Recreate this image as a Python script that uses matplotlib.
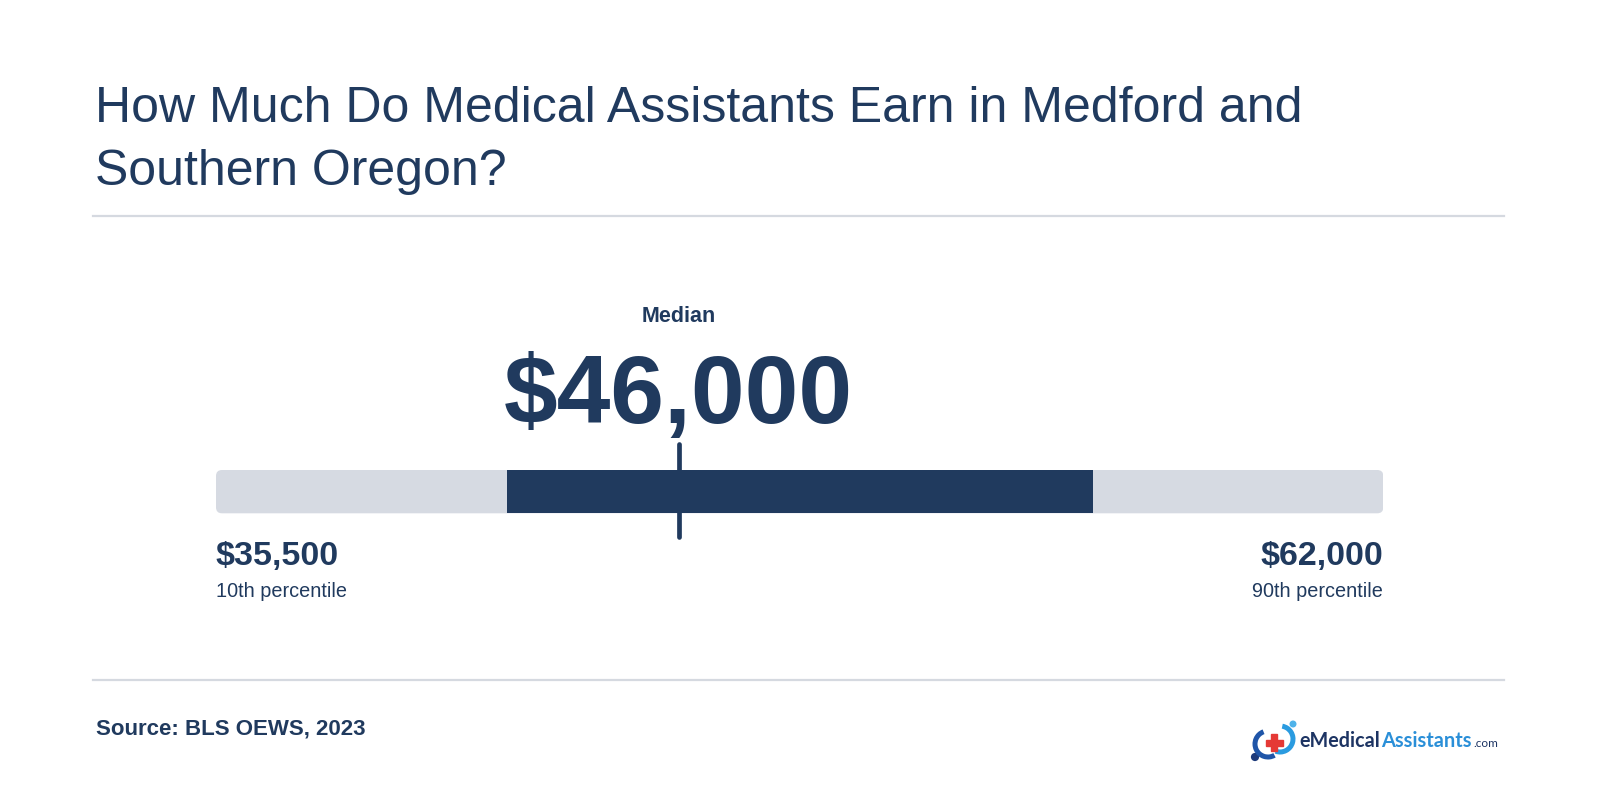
"""Salary range chart for medical assistants in Medford / Southern Oregon"""

import matplotlib.pyplot as plt
import matplotlib.transforms as mtransforms
from matplotlib.patches import FancyBboxPatch, Arc, Circle, Rectangle

# data
title = "How Much Do Medical Assistants Earn in Medford and\nSouthern Oregon?"
percentiles = ["10th percentile", "25th percentile", "Median", "75th percentile", "90th percentile"]
wages = [35500, 42100, 46000, 55400, 62000]
source = "Source: BLS OEWS, 2023"

NAVY = "#203a5e"
LIGHT = "#d6dae2"
RULE = "#d5d9e0"
W, H = 1600, 800

plt.rcParams['font.family'] = ['Liberation Sans', 'DejaVu Sans']

fig = plt.figure(figsize=(16, 8), dpi=100)
fig.patch.set_facecolor("white")


def fx(px):
    return px / W


def fy(py):
    return 1 - py / H


# title + rules
fig.text(fx(95), fy(122), title.split("\n")[0], fontsize=36, color=NAVY, va="baseline")
fig.text(fx(95), fy(185), title.split("\n")[1], fontsize=36, color=NAVY, va="baseline")
for yy in (215.7, 680):
    fig.add_artist(plt.Line2D([fx(93), fx(1504)], [fy(yy), fy(yy)], color=RULE, lw=1.6))

# range bar axes: x in dollars, y in pixels from top
p10, p25, med, p75, p90 = wages
x0, x1 = 216, 1383.3
ytop, ybot = 430, 560
ax = fig.add_axes([fx(x0), fy(ybot), (x1 - x0) / W, (ybot - ytop) / H])
ax.set_xlim(p10, p90)
ax.set_ylim(ybot, ytop)
ax.axis("off")

dollars_per_px = (p90 - p10) / (x1 - x0)
bar_y, bar_h = 470, 43.3
bg = FancyBboxPatch((p10, bar_y), p90 - p10, bar_h,
                    boxstyle="round,pad=0,rounding_size=%f" % (6 * dollars_per_px),
                    mutation_aspect=1 / dollars_per_px,
                    facecolor=LIGHT, edgecolor="none")
ax.add_patch(bg)
ax.barh(bar_y + bar_h / 2, p75 - p25, left=p25, height=bar_h, color=NAVY)
ax.vlines(med, 444, 537, color=NAVY, lw=3.4, capstyle="round")

# labels
tr = mtransforms.blended_transform_factory(ax.transData, fig.transFigure)
ax.text(med, fy(322), percentiles[2], transform=tr, ha="center", va="baseline",
        fontsize=15.5, fontweight="bold", color=NAVY)
ax.text(med, fy(423), "${:,}".format(med), transform=tr, ha="center", va="baseline",
        fontsize=69.5, fontweight="bold", color=NAVY)
ax.text(p10, fy(565), "${:,}".format(p10), transform=tr, ha="left", va="baseline",
        fontsize=24.5, fontweight="bold", color=NAVY)
ax.text(p10, fy(597), percentiles[0], transform=tr, ha="left", va="baseline",
        fontsize=14.3, color=NAVY)
ax.text(p90, fy(565), "${:,}".format(p90), transform=tr, ha="right", va="baseline",
        fontsize=24.5, fontweight="bold", color=NAVY)
ax.text(p90, fy(597), percentiles[4], transform=tr, ha="right", va="baseline",
        fontsize=14.3, color=NAVY)

# source
fig.text(fx(96), fy(735), source, fontsize=16, fontweight="bold", color=NAVY, va="baseline")

# logo
lax = fig.add_axes([fx(1249), fy(762), 50 / W, 44 / H])
lax.set_xlim(0, 50)
lax.set_ylim(0, 44)
lax.set_aspect("equal")
lax.axis("off")
lax.add_patch(Circle((6, 5), 3.4, color="#1d3a7a"))
lax.add_patch(Arc((19, 18), 26, 26, theta1=110, theta2=300, lw=3.6, color="#1f55a8"))
lax.add_patch(Arc((31, 23), 26, 26, theta1=-110, theta2=80, lw=3.6, color="#2a9be0"))
lax.add_patch(Circle((44, 38), 2.8, color="#4fb3ea"))
lax.add_patch(Rectangle((22, 11), 6, 17, color="#e53935"))
lax.add_patch(Rectangle((16.5, 16.5), 17, 6, color="#e53935"))

fig.text(fx(1299), fy(747), "eMedical", fontsize=14.2, fontweight="bold", color="#1d3463",
         va="baseline", family=["Lato", "DejaVu Sans"])
fig.text(fx(1381), fy(747), "Assistants", fontsize=14.4, fontweight="bold", color="#2a8fd8",
         va="baseline", family=["Lato", "DejaVu Sans"])
fig.text(fx(1473), fy(747), ".com", fontsize=8.5, color="#1d3463",
         va="baseline", family=["Lato", "DejaVu Sans"])

fig.savefig("out.png", dpi=100, facecolor="white")
